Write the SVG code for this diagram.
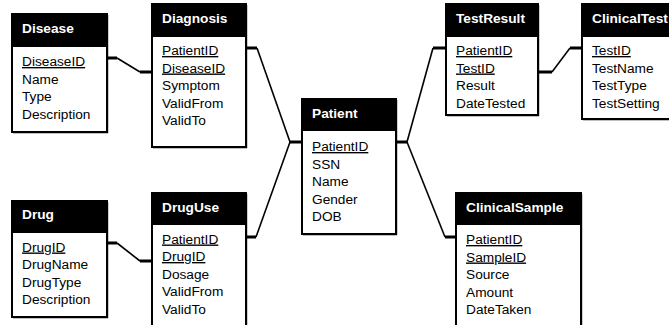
<svg xmlns="http://www.w3.org/2000/svg" width="669" height="325" viewBox="0 0 669 325">
  <style>
    .box { fill: #fff; stroke: #000; stroke-width: 2; }
    .shade { fill: none; stroke: #000; stroke-width: 1.2; }
    .head { fill: #000; }
    .title { font-family: "Liberation Sans", Arial, sans-serif; font-size: 13.7px; font-weight: bold; fill: #fff; }
    .field { font-family: "Liberation Sans", Arial, sans-serif; font-size: 13.7px; fill: #000; }
    .key { text-decoration: underline; }
    .stub { stroke: #000; stroke-width: 3; fill: none; }
    .diag { stroke: #000; stroke-width: 1.6; fill: none; }
  </style>
  <rect width="669" height="325" fill="#fff"/>

  <!-- relationship lines -->
  <g id="connectors">
    <!-- Disease - Diagnosis -->
    <path class="stub" d="M107,58 H117 M140,72 H152"/>
    <path class="diag" d="M117,58 L140,72"/>
    <!-- Diagnosis - Patient -->
    <path class="stub" d="M246,48 H257 M290,142 H302"/>
    <path class="diag" d="M257,48 L290,142"/>
    <!-- DrugUse - Patient -->
    <path class="stub" d="M246,237 H256"/>
    <path class="diag" d="M256,237 L290,142"/>
    <!-- Patient - TestResult -->
    <path class="stub" d="M396,142 H407 M433,48 H446"/>
    <path class="diag" d="M407,142 L433,48"/>
    <!-- Patient - ClinicalSample -->
    <path class="stub" d="M445,237 H456"/>
    <path class="diag" d="M407,142 L445,237"/>
    <!-- TestResult - ClinicalTest -->
    <path class="stub" d="M538,72 H552 M570,48 H582"/>
    <path class="diag" d="M552,72 L570,48"/>
    <!-- Drug - DrugUse -->
    <path class="stub" d="M107,243 H117 M140,261 H152"/>
    <path class="diag" d="M117,243 L140,261"/>
  </g>

  <g id="Disease">
    <rect class="box" x="12" y="14" width="95" height="118"/>
    <path class="shade" d="M107.6,15 V132.6 H13"/>
    <rect class="head" x="12" y="14" width="95" height="33"/>
    <text class="title" x="22" y="33">Disease</text>
    <text class="field key" x="22" y="66">DiseaseID</text>
    <text class="field" x="22" y="83.5">Name</text>
    <text class="field" x="22" y="101">Type</text>
    <text class="field" x="22" y="118.5">Description</text>
  </g>

  <g id="Diagnosis">
    <rect class="box" x="152" y="4" width="94" height="143"/>
    <path class="shade" d="M246.6,5 V147.6 H153"/>
    <rect class="head" x="152" y="4" width="94" height="33"/>
    <text class="title" x="162" y="23">Diagnosis</text>
    <text class="field key" x="162" y="55">PatientID</text>
    <text class="field key" x="162" y="72.5">DiseaseID</text>
    <text class="field" x="162" y="90">Symptom</text>
    <text class="field" x="162" y="107.5">ValidFrom</text>
    <text class="field" x="162" y="125">ValidTo</text>
  </g>

  <g id="Patient">
    <rect class="box" x="302" y="99" width="94" height="135"/>
    <path class="shade" d="M396.6,100 V234.6 H303"/>
    <rect class="head" x="302" y="99" width="94" height="32"/>
    <text class="title" x="312" y="118">Patient</text>
    <text class="field key" x="312" y="151">PatientID</text>
    <text class="field" x="312" y="168.5">SSN</text>
    <text class="field" x="312" y="186">Name</text>
    <text class="field" x="312" y="203.5">Gender</text>
    <text class="field" x="312" y="221">DOB</text>
  </g>

  <g id="TestResult">
    <rect class="box" x="446" y="4" width="92" height="111"/>
    <path class="shade" d="M538.6,5 V115.6 H447"/>
    <rect class="head" x="446" y="4" width="92" height="33"/>
    <text class="title" x="456" y="23">TestResult</text>
    <text class="field key" x="456" y="55">PatientID</text>
    <text class="field key" x="456" y="72.5">TestID</text>
    <text class="field" x="456" y="90">Result</text>
    <text class="field" x="456" y="107.5">DateTested</text>
  </g>

  <g id="ClinicalTest">
    <rect class="box" x="582" y="4" width="100" height="115"/>
    <path class="shade" d="M583,119.6 H682"/>
    <rect class="head" x="582" y="4" width="100" height="33"/>
    <text class="title" x="592" y="23">ClinicalTest</text>
    <text class="field key" x="592" y="55">TestID</text>
    <text class="field" x="592" y="72.5">TestName</text>
    <text class="field" x="592" y="90">TestType</text>
    <text class="field" x="592" y="107.5">TestSetting</text>
  </g>

  <g id="Drug">
    <rect class="box" x="12" y="201" width="95" height="116"/>
    <path class="shade" d="M107.6,202 V317.6 H13"/>
    <rect class="head" x="12" y="201" width="95" height="32"/>
    <text class="title" x="22" y="219">Drug</text>
    <text class="field key" x="22" y="251.5">DrugID</text>
    <text class="field" x="22" y="269">DrugName</text>
    <text class="field" x="22" y="286.5">DrugType</text>
    <text class="field" x="22" y="304">Description</text>
  </g>

  <g id="DrugUse">
    <rect class="box" x="152" y="193" width="94" height="140"/>
    <path class="shade" d="M246.6,194 V333"/>
    <rect class="head" x="152" y="193" width="94" height="32"/>
    <text class="title" x="162" y="212">DrugUse</text>
    <text class="field key" x="162" y="243.5">PatientID</text>
    <text class="field key" x="162" y="261">DrugID</text>
    <text class="field" x="162" y="278.5">Dosage</text>
    <text class="field" x="162" y="296">ValidFrom</text>
    <text class="field" x="162" y="313.5">ValidTo</text>
  </g>

  <g id="ClinicalSample">
    <rect class="box" x="456" y="193" width="125" height="140"/>
    <path class="shade" d="M581.6,194 V333"/>
    <rect class="head" x="456" y="193" width="125" height="32"/>
    <text class="title" x="466" y="212">ClinicalSample</text>
    <text class="field key" x="466" y="244">PatientID</text>
    <text class="field key" x="466" y="261.5">SampleID</text>
    <text class="field" x="466" y="279">Source</text>
    <text class="field" x="466" y="296.5">Amount</text>
    <text class="field" x="466" y="314">DateTaken</text>
  </g>
</svg>
